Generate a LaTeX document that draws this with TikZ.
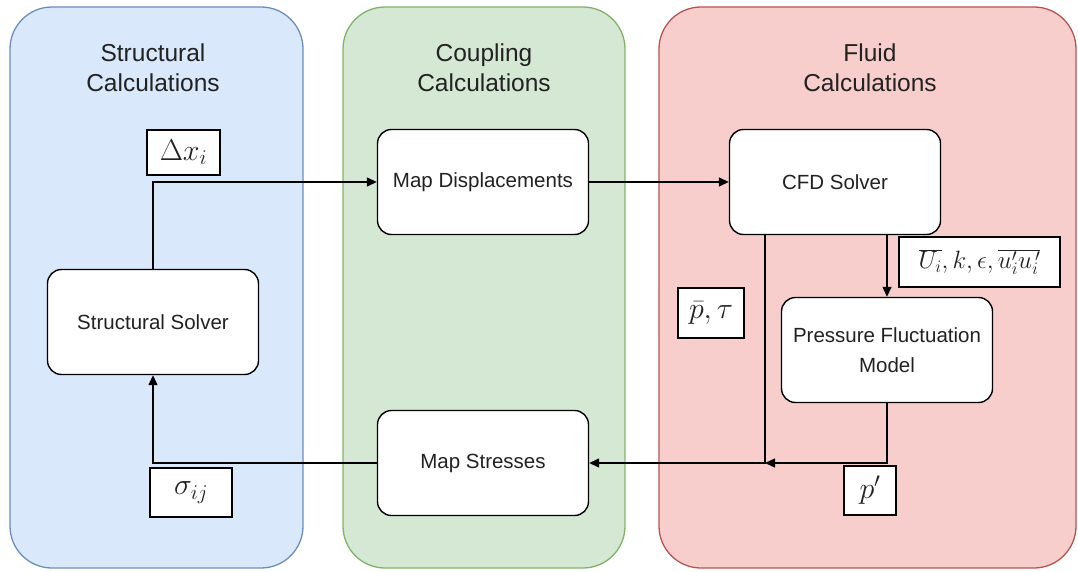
\RequirePackage{fix-cm}
\documentclass[tikz,border=0pt]{standalone}
\usepackage{fontspec}
\setmainfont{Liberation Sans}
\usetikzlibrary{arrows.meta}

\definecolor{structfill}{HTML}{DAE8FC}
\definecolor{structline}{HTML}{6C8EBF}
\definecolor{couplefill}{HTML}{D5E8D4}
\definecolor{coupleline}{HTML}{82B366}
\definecolor{fluidfill}{HTML}{F8CECC}
\definecolor{fluidline}{HTML}{B85450}
\definecolor{textgrey}{HTML}{222222}

\tikzset{
  panel/.style={rounded corners=42pt, line width=1.3pt},
  paneltitle/.style={align=center, text=textgrey, font=\fontsize{24.5}{30}\selectfont},
  proc/.style={draw, fill=white, rounded corners=14pt, line width=1.4pt,
    minimum width=211pt, minimum height=105pt, inner sep=0pt, align=center,
    text=textgrey, font=\fontsize{20.5}{30}\selectfont},
  varbox/.style={draw, fill=white, line width=1.2pt, inner sep=0pt,
    text=textgrey, font=\fontsize{30}{34}\selectfont},
  flow/.style={line width=1.4pt, -{Triangle[length=10pt,width=9pt]}},
}

\begin{document}
\begin{tikzpicture}[x=1pt,y=-1pt]
  \useasboundingbox (0,0) rectangle (1078,572);
  \draw[panel, fill=structfill, draw=structline] (10,7) rectangle (303,568);
  \draw[panel, fill=couplefill, draw=coupleline] (343,7) rectangle (625,568);
  \draw[panel, fill=fluidfill, draw=fluidline] (659,7) rectangle (1076,568);
  \draw
    (153,68) node[paneltitle] (stitle) {Structural\\Calculations}
    (484,68) node[paneltitle] (ctitle) {Coupling\\Calculations}
    (870,68) node[paneltitle] (ftitle) {Fluid\\Calculations};
  \draw
    (153,322) node[proc] (ssolver) {Structural Solver}
    (483,182) node[proc] (mapdisp) {Map Displacements}
    (835,182) node[proc] (cfd) {CFD Solver}
    (887,350) node[proc] (pfm) {Pressure Fluctuation\\Model}
    (483,463) node[proc] (mapstr) {Map Stresses};
  \coordinate (junc) at (765,463);
  \begin{scope}[flow]
    \draw (ssolver.north) |- (mapdisp.west);
    \draw (mapdisp.east) -- (cfd.west);
    \draw (cfd.south -| pfm.north) -- (pfm.north);
    \draw (cfd.south -| junc) -- (junc) -- (mapstr.east);
    \draw (pfm.south) |- (junc);
    \draw (mapstr.west) -| (ssolver.south);
  \end{scope}
  \draw
    (183.5,152.5) node[varbox, minimum width=73pt, minimum height=45pt] (dx) {$\Delta x_i$}
    (711,313) node[varbox, minimum width=66pt, minimum height=50pt] (ptau) {$\bar{p},\tau$}
    (979.5,262) node[varbox, minimum width=161pt, minimum height=50pt,
      font=\fontsize{25}{30}\selectfont] (turb) {$\overline{U_i},k,\epsilon,\overline{u'_i u_i^{\,\prime}}$}
    (191,492.5) node[varbox, minimum width=82pt, minimum height=49pt] (sigma) {$\sigma_{ij}$}
    (870,490.5) node[varbox, minimum width=52pt, minimum height=49pt] (pprime) {$p'$};
\end{tikzpicture}
\end{document}
